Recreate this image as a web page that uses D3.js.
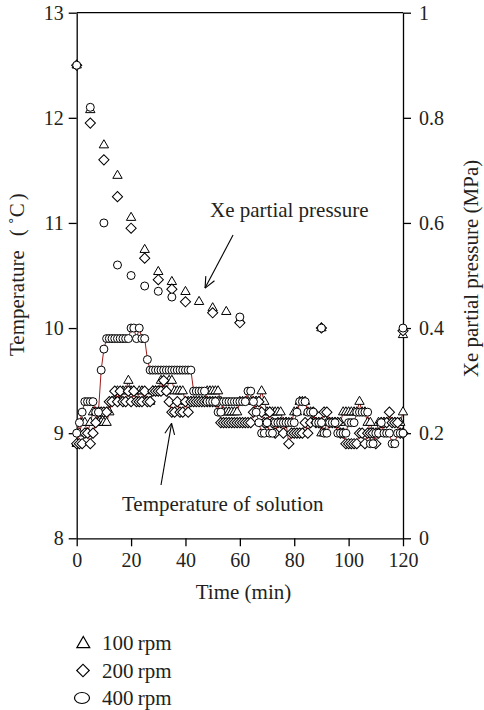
<!DOCTYPE html>
<html>
<head>
<meta charset="utf-8">
<script src="https://cdn.jsdelivr.net/npm/d3@7"></script>
<style>
  body { margin: 0; background: #fff; }
  svg text { font-family: "Liberation Serif", "Times New Roman", serif; fill: #231f20; }
</style>
</head>
<body>
<script>
// ---- data ----
// Xe partial pressure (MPa), sampled every few minutes
const pressTime100 = [0, 5, 10, 15, 20, 25, 30, 35, 40, 45, 50, 55, 60, 90, 120];
const press100     = [0.90, 0.815, 0.748, 0.69, 0.61, 0.549, 0.507, 0.488, 0.469, 0.45, 0.438, 0.431, 0.415, 0.40, 0.387];
const pressTime200 = [0, 5, 10, 15, 20, 25, 30, 35, 40, 50, 60, 90, 120];
const press200     = [0.90, 0.79, 0.72, 0.65, 0.59, 0.533, 0.492, 0.474, 0.45, 0.429, 0.41, 0.40, 0.395];
const pressTime400 = [0, 5, 10, 15, 20, 25, 30, 35, 60, 90, 120];
const press400     = [0.90, 0.82, 0.60, 0.52, 0.50, 0.48, 0.47, 0.459, 0.421, 0.40, 0.40];

// Temperature of solution (deg C), one reading per minute, 0..120 min
const temp100 = [
  8.9, 9.0, 9.1, 9.1, 9.0, 9.1, 9.2, 9.2, 9.1, 9.1,
  9.1, 9.1, 9.2, 9.3, 9.3, 9.4, 9.3, 9.4, 9.4, 9.5,
  9.4, 9.4, 9.3, 9.4, 9.4, 9.3, 9.3, 9.3, 9.4, 9.4,
  9.4, 9.5, 9.4, 9.4, 9.5, 9.5, 9.4, 9.4, 9.4, 9.4,
  9.3, 9.3, 9.3, 9.3, 9.3, 9.3, 9.3, 9.3, 9.4, 9.4,
  9.4, 9.4, 9.4, 9.3, 9.2, 9.2, 9.2, 9.2, 9.2, 9.2,
  9.3, 9.3, 9.3, 9.3, 9.3, 9.3, 9.3, 9.3, 9.4, 9.3,
  9.2, 9.2, 9.2, 9.2, 9.2, 9.2, 9.1, 9.1, 9.1, 9.1,
  9.2, 9.2, 9.3, 9.3, 9.3, 9.2, 9.2, 9.1, 9.1, 9.1,
  9.0, 9.0, 9.1, 9.1, 9.1, 9.1, 9.1, 9.1, 9.2, 9.2,
  9.2, 9.2, 9.2, 9.2, 9.3, 9.2, 9.2, 9.1, 9.1, 9.0,
  9.0, 9.1, 9.1, 9.1, 9.1, 9.1, 9.1, 9.1, 9.1, 9.1,
  9.2
];
const temp200 = [
  8.9, 8.9, 8.9, 9.0, 9.0, 8.9, 9.0, 9.1, 9.2, 9.2,
  9.2, 9.2, 9.3, 9.3, 9.4, 9.3, 9.4, 9.3, 9.3, 9.4,
  9.3, 9.4, 9.3, 9.3, 9.3, 9.4, 9.3, 9.3, 9.4, 9.4,
  9.4, 9.4, 9.5, 9.4, 9.3, 9.2, 9.2, 9.3, 9.2, 9.2,
  9.3, 9.2, 9.3, 9.3, 9.3, 9.3, 9.3, 9.3, 9.3, 9.3,
  9.3, 9.3, 9.3, 9.1, 9.1, 9.1, 9.1, 9.1, 9.1, 9.1,
  9.1, 9.1, 9.1, 9.1, 9.1, 9.2, 9.3, 9.3, 9.2, 9.1,
  9.1, 9.2, 9.1, 9.0, 9.1, 9.1, 9.0, 9.1, 8.9, 9.0,
  9.0, 9.0, 9.0, 9.0, 9.1, 9.0, 9.1, 9.2, 9.1, 9.1,
  9.1, 9.2, 9.2, 9.1, 9.1, 9.1, 9.1, 9.0, 9.0, 8.9,
  8.9, 8.9, 8.9, 8.9, 9.0, 9.0, 8.9, 9.0, 9.0, 9.0,
  8.9, 9.0, 9.1, 9.1, 9.1, 9.2, 9.1, 9.1, 9.1, 9.0,
  9.0
];
const temp400 = [
  9.0, 9.1, 9.2, 9.3, 9.3, 9.3, 9.3, 9.2, 9.2, 9.6,
  9.8, 9.9, 9.9, 9.9, 9.9, 9.9, 9.9, 9.9, 9.9, 9.9,
  10.0, 10.0, 9.9, 10.0, 9.9, 9.9, 9.7, 9.6, 9.6, 9.6,
  9.6, 9.6, 9.6, 9.6, 9.6, 9.6, 9.6, 9.6, 9.6, 9.6,
  9.6, 9.6, 9.6, 9.4, 9.4, 9.4, 9.4, 9.4, 9.3, 9.3,
  9.3, 9.3, 9.2, 9.2, 9.3, 9.3, 9.3, 9.3, 9.3, 9.3,
  9.3, 9.3, 9.3, 9.4, 9.4, 9.3, 9.2, 9.1, 9.0, 9.0,
  9.1, 9.0, 9.0, 9.1, 9.1, 9.1, 9.1, 9.1, 9.1, 9.1,
  9.1, 9.2, 9.3, 9.3, 9.3, 9.2, 9.2, 9.2, 9.1, 9.1,
  9.1, 9.0, 9.0, 9.1, 9.1, 9.1, 9.0, 9.0, 9.0, 9.0,
  9.1, 9.1, 9.1, 9.2, 9.2, 9.2, 9.2, 9.2, 8.9, 8.9,
  9.0, 9.0, 9.1, 9.0, 9.0, 9.0, 8.9, 8.9, 9.0, 9.0,
  9.0
];

const timeTicks = [0, 20, 40, 60, 80, 100, 120];
const tempTicks = [8, 9, 10, 11, 12, 13];
const pressTicks = [0, 0.2, 0.4, 0.6, 0.8, 1];
const legendLabels = ["100 rpm", "200 rpm", "400 rpm"];

// ---- layout ----
const width = 484, height = 710;
const plotLeft = 76.7, plotRight = 403, plotTop = 12.7, plotBottom = 538.3;
const tickFont = 20, labelFont = 21;

const svg = d3.select("body").append("svg")
    .attr("width", width)
    .attr("height", height);

const x = d3.scaleLinear().domain([0, 120]).range([plotLeft, plotRight]);
const yT = d3.scaleLinear().domain([8, 13]).range([plotBottom, plotTop]);
const yP = d3.scaleLinear().domain([0, 1]).range([plotBottom, plotTop]);

// symbols
const triPath = d3.symbol().type(d3.symbolTriangle).size(38);
const diaPath = d3.symbol().type(d3.symbolSquare).size(52);
const triBig = d3.symbol().type(d3.symbolTriangle).size(72);
const diaBig = d3.symbol().type(d3.symbolSquare).size(78);

// frame: top border
svg.append("line")
    .attr("x1", plotLeft).attr("x2", plotRight)
    .attr("y1", plotTop).attr("y2", plotTop)
    .attr("stroke", "#000").attr("stroke-width", 1.3);

// axes
function styleAxis(g) {
    g.selectAll("path, line").attr("stroke", "#000").attr("stroke-width", 1.3);
    g.selectAll("text").style("font-size", tickFont + "px").attr("fill", "#231f20")
        .style("font-family", "Liberation Serif");
}
svg.append("g")
    .attr("transform", `translate(${plotLeft},0)`)
    .call(d3.axisLeft(yT).tickValues(tempTicks).tickSize(8).tickSizeOuter(0).tickPadding(5).tickFormat(d3.format("d")))
    .call(styleAxis);
svg.append("g")
    .attr("transform", `translate(${plotRight},0)`)
    .call(d3.axisRight(yP).tickValues(pressTicks).tickSize(8).tickSizeOuter(0).tickPadding(8).tickFormat(d => String(+d.toFixed(1))))
    .call(styleAxis);
svg.append("g")
    .attr("transform", `translate(0,${plotBottom})`)
    .call(d3.axisBottom(x).tickValues(timeTicks).tickSize(8).tickSizeOuter(0).tickPadding(6.5))
    .call(styleAxis);

// axis titles
const yTitle = svg.append("text")
    .attr("transform", "translate(24,356) rotate(-90)")
    .attr("text-anchor", "start")
    .style("font-size", labelFont + "px");
yTitle.append("tspan").text("Temperature");
yTitle.append("tspan").attr("dx", 14).text("(");
yTitle.append("tspan").attr("dx", 5).text("\u02DAC");
yTitle.append("tspan").attr("dx", 3).text(")");

svg.append("text")
    .attr("transform", "translate(478,268.5) rotate(-90)")
    .attr("text-anchor", "middle")
    .style("font-size", labelFont + "px")
    .text("Xe partial pressure (MPa)");
svg.append("text")
    .attr("x", 243.5).attr("y", 599)
    .attr("text-anchor", "middle")
    .style("font-size", labelFont + "px")
    .text("Time (min)");

// temperature series: thin dark red connecting lines under the markers
const tempSeries = [
    { values: temp100, shape: "tri" },
    { values: temp200, shape: "dia" },
    { values: temp400, shape: "circ" }
];
const tempLine = d3.line()
    .x((d, i) => x(i))
    .y(d => yT(d));
tempSeries.forEach(s => {
    svg.append("path")
        .datum(s.values)
        .attr("fill", "none")
        .attr("stroke", "#9e1c1c")
        .attr("stroke-width", 1)
        .attr("d", tempLine);
});

function drawMarkers(points, shape) {
    const g = svg.append("g");
    if (shape === "circ") {
        g.selectAll("circle")
            .data(points)
            .enter()
            .append("circle")
            .attr("cx", d => d.x)
            .attr("cy", d => d.y)
            .attr("r", 4)
            .attr("fill", "#fff")
            .attr("stroke", "#000")
            .attr("stroke-width", 1);
    } else {
        g.selectAll("path")
            .data(points)
            .enter()
            .append("path")
            .attr("d", shape === "tri" ? triPath : diaPath)
            .attr("transform", d => shape === "tri"
                ? `translate(${d.x},${d.y})`
                : `translate(${d.x},${d.y}) rotate(45)`)
            .attr("fill", "#fff")
            .attr("stroke", "#000")
            .attr("stroke-width", 1);
    }
}

tempSeries.forEach(s => {
    drawMarkers(s.values.map((v, i) => ({ x: x(i), y: yT(v) })), s.shape);
});

// pressure series
const pressSeries = [
    { t: pressTime100, v: press100, shape: "tri" },
    { t: pressTime200, v: press200, shape: "dia" },
    { t: pressTime400, v: press400, shape: "circ" }
];
pressSeries.forEach(s => {
    drawMarkers(s.t.map((t, i) => ({ x: x(t), y: yP(s.v[i]) })), s.shape);
});

// annotations with arrows
function arrow(x1, y1, x2, y2) {
    svg.append("line")
        .attr("x1", x1).attr("y1", y1).attr("x2", x2).attr("y2", y2)
        .attr("stroke", "#000").attr("stroke-width", 1.1);
    const ang = Math.atan2(y1 - y2, x1 - x2);
    const len = 12, spread = 0.42;
    [ang - spread, ang + spread].forEach(a => {
        svg.append("line")
            .attr("x1", x2).attr("y1", y2)
            .attr("x2", x2 + len * Math.cos(a)).attr("y2", y2 + len * Math.sin(a))
            .attr("stroke", "#000").attr("stroke-width", 1.1);
    });
}
svg.append("text")
    .attr("x", 210).attr("y", 217)
    .style("font-size", labelFont + "px")
    .text("Xe partial pressure");
arrow(x(57.5), yP(0.577), x(47.2), yP(0.476));

svg.append("text")
    .attr("x", 122).attr("y", 511)
    .style("font-size", labelFont + "px")
    .text("Temperature of solution");
arrow(x(31), yT(8.507), x(34.9), yT(9.094));

// legend
const legend = svg.append("g");
legendLabels.forEach((lab, i) => {
    const cy = 643 + i * 27.5;
    if (i === 0) {
        legend.append("path").attr("d", triBig)
            .attr("transform", `translate(83.3,${cy + 1})`)
            .attr("fill", "#fff").attr("stroke", "#000").attr("stroke-width", 1.2);
    } else if (i === 1) {
        legend.append("path").attr("d", diaBig)
            .attr("transform", `translate(83,${cy}) rotate(45)`)
            .attr("fill", "#fff").attr("stroke", "#000").attr("stroke-width", 1.2);
    } else {
        legend.append("ellipse")
            .attr("cx", 82).attr("cy", cy)
            .attr("rx", 7.5).attr("ry", 5.5)
            .attr("fill", "#fff").attr("stroke", "#000").attr("stroke-width", 1.2);
    }
    legend.append("text")
        .attr("x", 102).attr("y", cy + 7)
        .style("font-size", labelFont + "px")
        .text(lab.replace(" ", "\u2009"));
});
</script>
</body>
</html>
